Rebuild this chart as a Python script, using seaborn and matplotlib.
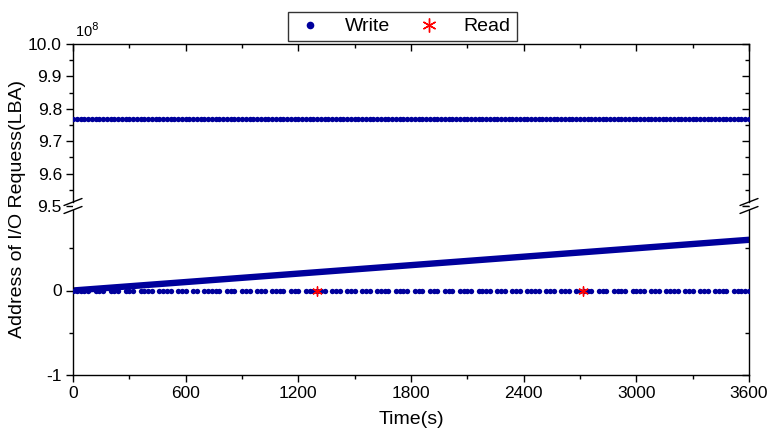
import numpy as np
import pandas as pd
import matplotlib
matplotlib.use("Agg")
import matplotlib.pyplot as plt
from matplotlib.lines import Line2D
import seaborn as sns

# ---------------- data (units of 1e8 LBA) ----------------
sample_step = 20                                   # seconds between sampled writes
write_top_times = list(range(0, 3601, sample_step))
write_top_level = 9.77
write_bottom_gaps = [100, 180, 260, 340, 440, 540, 620, 680, 800, 880, 960, 1040,
                     1140, 1220, 1360, 1440, 1520, 1600, 1700, 1800, 1880, 1960,
                     2040, 2140, 2240, 2320, 2400, 2500, 2580, 2660, 2780, 2860,
                     2960, 3060, 3140, 3240, 3320, 3400, 3500]
write_bottom_times = [t for t in write_top_times if t not in write_bottom_gaps]
write_bottom_level = 0.0
seq_write_times = [0, 3600]
seq_write_addr = [0.0, 0.60]
read_times = [1300, 2715]
read_addr = [0.0, 0.0]

x_ticks = [0, 600, 1200, 1800, 2400, 3000, 3600]
x_minor = [300, 900, 1500, 2100, 2700, 3300]
top_yticks = [9.5, 9.6, 9.7, 9.8, 9.9, 10.0]
top_yminor = [9.55, 9.65, 9.75, 9.85, 9.95]
bottom_yticks = [-1, 0]
bottom_yminor = [-0.5, 0.5]

navy = "#00009C"
red = "#FF0000"

sns.set_style("ticks")
plt.rcParams["font.family"] = ["Liberation Sans", "DejaVu Sans"]
plt.rcParams["text.color"] = "black"
plt.rcParams["axes.labelcolor"] = "black"

fig = plt.figure(figsize=(7.71, 4.38), dpi=100)
L, R = 73 / 771, 749 / 771
y_top, y_mid, y_bot = 1 - 44 / 438, 1 - 206 / 438, 1 - 375 / 438
ax_t = fig.add_axes([L, y_mid, R - L, y_top - y_mid])
ax_b = fig.add_axes([L, y_bot, R - L, y_mid - y_bot], sharex=ax_t)

df_top = pd.DataFrame({"t": write_top_times, "a": [write_top_level] * len(write_top_times)})
df_bot = pd.DataFrame({"t": write_bottom_times, "a": [write_bottom_level] * len(write_bottom_times)})
df_seq = pd.DataFrame({"t": seq_write_times, "a": seq_write_addr})
df_read = pd.DataFrame({"t": read_times, "a": read_addr})

sns.scatterplot(data=df_top, x="t", y="a", ax=ax_t, color=navy, s=15, linewidth=0, zorder=3)
sns.lineplot(data=df_seq, x="t", y="a", ax=ax_b, color=navy, linewidth=4.6, zorder=2)
sns.scatterplot(data=df_bot, x="t", y="a", ax=ax_b, color=navy, s=15, linewidth=0, zorder=3)
sns.scatterplot(data=df_read, x="t", y="a", ax=ax_b, color=red, marker=(6, 2, 0),
                s=45, linewidth=1.0, edgecolor=red, zorder=4)

for ax in (ax_t, ax_b):
    ax.set_xlim(0, 3600)
    ax.set_xlabel("")
    ax.set_ylabel("")
    for sp in ax.spines.values():
        sp.set_linewidth(1.0)
        sp.set_color("black")

ax_t.set_ylim(9.5, 10.0)
ax_t.set_yticks(top_yticks)
ax_t.set_yticks(top_yminor, minor=True)
ax_t.set_yticklabels([f"{v:.1f}" for v in top_yticks])
ax_t.spines["bottom"].set_visible(False)

ax_b.set_ylim(-1, 1)
ax_b.set_yticks(bottom_yticks)
ax_b.set_yticks(bottom_yminor, minor=True)
ax_b.set_yticklabels([str(v) for v in bottom_yticks])
ax_b.spines["top"].set_visible(False)
ax_b.set_xticks(x_ticks)
ax_b.set_xticks(x_minor, minor=True)
ax_b.set_xticklabels([str(v) for v in x_ticks])

ax_t.tick_params(axis="x", which="both", bottom=False, top=True, labelbottom=False,
                 direction="in")
ax_b.tick_params(axis="x", which="both", bottom=True, top=False, direction="out")
for ax in (ax_t, ax_b):
    ax.tick_params(axis="x", which="major", length=5, width=1, color="black")
    ax.tick_params(axis="x", which="minor", length=3, width=1, color="black")
    ax.tick_params(axis="y", which="both", left=True, right=False, direction="out")
    ax.tick_params(axis="y", which="major", length=5, width=1, color="black")
    ax.tick_params(axis="y", which="minor", length=3, width=1, color="black")
    ax.tick_params(axis="both", labelsize=12.5, pad=3, labelcolor="black")

# right side: inward ticks without labels
for ax, maj, mnr in ((ax_t, top_yticks, top_yminor), (ax_b, bottom_yticks + [1], bottom_yminor)):
    sec = ax.secondary_yaxis("right")
    sec.set_yticks(maj)
    sec.set_yticks(mnr, minor=True)
    sec.tick_params(axis="y", which="both", direction="in", labelright=False, color="black")
    sec.tick_params(axis="y", which="major", length=5, width=1)
    sec.tick_params(axis="y", which="minor", length=3, width=1)
    sec.spines["right"].set_visible(False)

# spine gap + break marks at boundary
ax_t.spines["left"].set_bounds(9.5 + 0.5 * 4 / 162, 10.0)
ax_t.spines["right"].set_bounds(9.5 + 0.5 * 4 / 162, 10.0)
ax_b.spines["left"].set_bounds(-1, 1 - 2 * 4 / 169)
ax_b.spines["right"].set_bounds(-1, 1 - 2 * 4 / 169)
for xf in (L, R):
    for dy in (4 / 438, -4 / 438):
        fig.add_artist(Line2D(
            [xf - 9 / 771, xf + 9 / 771],
            [y_mid + dy - 3.5 / 438, y_mid + dy + 3.5 / 438],
            color="black", linewidth=1.0, transform=fig.transFigure))

fig.text(75 / 771, 1 - 37 / 438, r"10$^{8}$", fontsize=10.5, ha="left", va="baseline")
fig.text((L + R) / 2, 0.022, "Time(s)", fontsize=14, ha="center", va="bottom")
fig.text(0.012, (y_top + y_bot) / 2, "Address of I/O Requess(LBA)", fontsize=14,
         rotation=90, ha="left", va="center")

handles = [
    Line2D([], [], linestyle="", marker="o", markersize=5.5, color=navy, markeredgewidth=0),
    Line2D([], [], linestyle="", marker=(6, 2, 0), markersize=10, color=red,
           markeredgewidth=1.0),
]
fig.legend(handles, ["Write", "Read"], loc="upper center", bbox_to_anchor=(0.522, 0.995),
           ncol=2, frameon=True, fancybox=False, edgecolor="black", fontsize=14,
           handletextpad=1.0, columnspacing=1.2, borderpad=0.3, handlelength=1.6)

fig.savefig("out.png", dpi=100)
